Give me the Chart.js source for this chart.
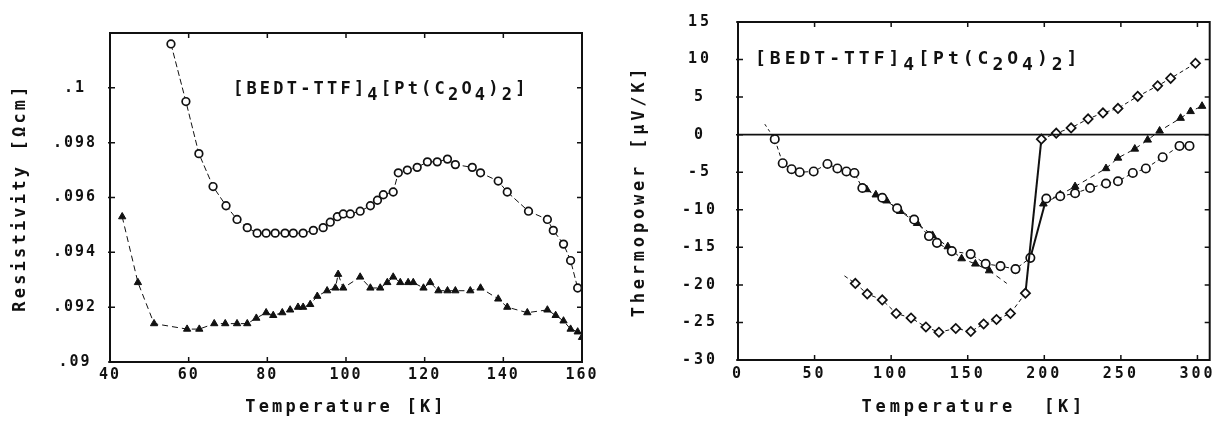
<!DOCTYPE html>
<html lang="en">
<head>
<meta charset="UTF-8">
<title>[BEDT-TTF]4[Pt(C2O4)2] resistivity and thermopower</title>
<script src="https://cdn.jsdelivr.net/npm/chart.js"></script>
<style>
  body { margin: 0; background: #fff; }
  #wrap { position: relative; width: 1216px; height: 424px; }
  #leftChart { position: absolute; left: 0; top: 0; width: 600px; height: 424px; }
  #rightChart { position: absolute; left: 600px; top: 0; width: 616px; height: 424px; }
</style>
</head>
<body>
<div id="wrap">
  <canvas id="leftChart" width="600" height="424"></canvas>
  <canvas id="rightChart" width="616" height="424"></canvas>
</div>
<script>
// ---- left panel: resistivity ----
const resCircleT = [55.5, 59.3, 62.6, 66.2, 69.5, 72.3, 74.9, 77.4, 79.7, 82.0, 84.5, 86.6, 89.1, 91.7, 94.2, 96.0, 97.8, 99.3, 101.1, 103.6, 106.2, 108.0, 109.5, 112.0, 113.3, 115.6, 118.1, 120.7, 123.2, 125.8, 127.8, 132.1, 134.2, 138.7, 141.0, 146.4, 151.2, 152.7, 155.3, 157.1, 158.9];
const resCircleV = [.1016, .0995, .0976, .0964, .0957, .0952, .0949, .0947, .0947, .0947, .0947, .0947, .0947, .0948, .0949, .0951, .0953, .0954, .0954, .0955, .0957, .0959, .0961, .0962, .0969, .0970, .0971, .0973, .0973, .0974, .0972, .0971, .0969, .0966, .0962, .0955, .0952, .0948, .0943, .0937, .0927];

const resTriT = [43.1, 47.1, 51.2, 59.6, 62.7, 66.5, 69.3, 72.3, 74.9, 77.2, 79.7, 81.5, 83.8, 85.8, 87.8, 89.1, 90.9, 92.7, 95.2, 97.3, 98.0, 99.3, 103.6, 106.2, 108.7, 110.5, 112.0, 113.8, 115.8, 117.1, 119.7, 121.4, 123.5, 125.8, 127.8, 131.6, 134.2, 138.7, 141.0, 146.1, 151.2, 153.3, 155.3, 157.1, 158.9, 160.0];
const resTriV = [.0953, .0929, .0914, .0912, .0912, .0914, .0914, .0914, .0914, .0916, .0918, .0917, .0918, .0919, .0920, .0920, .0921, .0924, .0926, .0927, .0932, .0927, .0931, .0927, .0927, .0929, .0931, .0929, .0929, .0929, .0927, .0929, .0926, .0926, .0926, .0926, .0927, .0923, .0920, .0918, .0919, .0917, .0915, .0912, .0911, .0909];

const resXTicks = [40, 60, 80, 100, 120, 140, 160];
const resYTicks = [0.090, 0.092, 0.094, 0.096, 0.098, 0.100];
const resYLabels = ['.09', '.092', '.094', '.096', '.098', '.1'];

// ---- right panel: thermopower ----
const tpCircleT = [24.0, 29.2, 35.0, 40.3, 49.4, 58.4, 64.9, 70.8, 76.0, 81.2, 94.2, 103.9, 115.0, 124.7, 129.9, 139.6, 151.9, 161.7, 171.4, 181.2, 190.9, 201.3, 210.4, 220.1, 229.9, 240.3, 248.1, 257.8, 266.3, 277.3, 288.3, 294.8];
const tpCircleS = [-0.6, -3.8, -4.6, -5.0, -4.9, -3.9, -4.5, -4.9, -5.1, -7.1, -8.4, -9.8, -11.3, -13.5, -14.4, -15.5, -15.9, -17.2, -17.5, -17.9, -16.4, -8.5, -8.2, -7.8, -7.1, -6.5, -6.2, -5.1, -4.5, -3.0, -1.5, -1.5];

const tpTriLowT = [84.0, 90.0, 97.0, 106.0, 117.0, 127.0, 137.0, 146.0, 155.0, 164.0];
const tpTriLowS = [-7.3, -8.0, -8.8, -10.2, -11.8, -13.4, -14.9, -16.5, -17.2, -18.1];
const tpTriHighT = [199.4, 210.4, 220.1, 240.3, 248.1, 259.1, 267.5, 275.3, 289.0, 295.5, 303.0];
const tpTriHighS = [-9.2, -8.0, -6.9, -4.5, -3.1, -1.9, -0.7, 0.5, 2.2, 3.1, 3.8];

const tpDiamondT = [76.6, 84.4, 94.2, 103.3, 113.0, 122.7, 131.2, 142.2, 152.0, 160.4, 168.8, 177.9, 187.7, 198.1, 207.8, 217.5, 228.6, 238.3, 248.1, 261.0, 274.0, 282.5, 298.7];
const tpDiamondS = [-19.8, -21.2, -22.0, -23.8, -24.4, -25.6, -26.3, -25.8, -26.2, -25.2, -24.6, -23.8, -21.1, -0.6, 0.2, 0.9, 2.1, 2.9, 3.5, 5.1, 6.5, 7.5, 9.5];

// free ends of the dashed guide lines
const circleTip = [17.5, 1.4];
const diamondTip = [69.5, -18.8];
const triTip = [175.5, -19.8];

const tpXTicks = [0, 50, 100, 150, 200, 250, 300];
const tpYTicks = [-30, -25, -20, -15, -10, -5, 0, 5, 10, 15];

const ink = '#111';
const mono = '"DejaVu Sans Mono", "Liberation Mono", monospace';
const formula = [['[BEDT-TTF]', 0], ['4', 1], ['[Pt(C', 0], ['2', 1], ['O', 0], ['4', 1], [')', 0], ['2', 1], [']', 0]];

function pts(xs, ys) { return xs.map((x, i) => ({ x: x, y: ys[i] })); }

const dashOrJump = {
  borderDash: c => Math.abs(c.p1.parsed.y - c.p0.parsed.y) > 5 ? [] : [4, 3],
  borderWidth: c => Math.abs(c.p1.parsed.y - c.p0.parsed.y) > 5 ? 2 : 1
};

const plotterDecor = {
  id: 'plotterDecor',
  beforeUpdate(chart, args, opts) { chart.ctx.letterSpacing = opts.tickSpacing; },
  beforeDraw(chart, args, opts) { chart.ctx.letterSpacing = opts.tickSpacing; },
  afterDraw(chart, args, opts) {
    const { ctx, chartArea: a, scales: { x, y } } = chart;
    ctx.save();
    ctx.strokeStyle = ink;
    ctx.lineWidth = 2;
    ctx.strokeRect(a.left, a.top, a.right - a.left, a.bottom - a.top);

    // small inward ticks on all four sides
    ctx.lineWidth = 1.5;
    ctx.beginPath();
    x.ticks.forEach(t => {
      const px = x.getPixelForValue(t.value);
      ctx.moveTo(px, a.bottom); ctx.lineTo(px, a.bottom - 5);
      ctx.moveTo(px, a.top); ctx.lineTo(px, a.top + 5);
    });
    y.ticks.forEach(t => {
      const py = y.getPixelForValue(t.value);
      ctx.moveTo(a.left - 2, py); ctx.lineTo(a.left + 5, py);
      ctx.moveTo(a.right, py); ctx.lineTo(a.right - 5, py);
    });
    ctx.stroke();

    if (opts.zeroLine) {
      const py = y.getPixelForValue(0);
      ctx.lineWidth = 1.8;
      ctx.beginPath();
      ctx.moveTo(a.left, py); ctx.lineTo(a.right, py);
      ctx.stroke();
    }

    // axis titles
    ctx.fillStyle = ink;
    ctx.textAlign = 'center';
    ctx.textBaseline = 'middle';
    ctx.font = opts.titleFont;
    ctx.letterSpacing = opts.titleSpacing;
    ctx.fillText(opts.xTitle, (a.left + a.right) / 2, a.bottom + opts.xTitleGap);
    ctx.save();
    ctx.translate(opts.yTitleX, (a.top + a.bottom) / 2);
    ctx.rotate(-Math.PI / 2);
    ctx.fillText(opts.yTitle, 0, 0);
    ctx.restore();

    // compound label with subscripts
    ctx.font = opts.formulaFont;
    ctx.letterSpacing = opts.formulaSpacing;
    ctx.textAlign = 'left';
    let fx = a.left + opts.formulaDx;
    const fy = a.top + opts.formulaDy;
    formula.forEach(([txt, sub]) => {
      ctx.fillText(txt, fx, fy + (sub ? 6 : 0));
      fx += ctx.measureText(txt).width;
    });
    ctx.restore();
  }
};

function fixedWidth(w) { return s => { s.width = w; s.paddingTop = 0; s.paddingBottom = 0; }; }
function fixedHeight(h) { return s => { s.height = h; s.paddingLeft = 0; s.paddingRight = 0; }; }

const tickFont = { family: mono, size: 15, weight: 'bold' };

// ---- left chart ----
new Chart(document.getElementById('leftChart'), {
  type: 'scatter',
  data: {
    datasets: [
      {
        data: pts(resCircleT, resCircleV),
        showLine: true, borderColor: ink, borderWidth: 1, borderDash: [6, 3],
        pointStyle: 'circle', pointRadius: 3.8, pointBorderWidth: 1.7,
        pointBorderColor: ink, pointBackgroundColor: '#fff'
      },
      {
        data: pts(resTriT, resTriV),
        showLine: true, borderColor: ink, borderWidth: 1, borderDash: [6, 4],
        pointStyle: 'triangle', pointRadius: 4.2, pointBorderWidth: 1,
        pointBorderColor: ink, pointBackgroundColor: ink
      }
    ]
  },
  options: {
    responsive: false,
    animation: false,
    events: [],
    layout: { padding: { top: 33, right: 18, left: 0, bottom: 0 } },
    plugins: {
      legend: { display: false },
      tooltip: { enabled: false },
      plotterDecor: {
        tickSpacing: '2px',
        titleFont: 'bold 17px ' + mono, titleSpacing: '3.2px',
        xTitle: 'Temperature [K]', xTitleGap: 46,
        yTitle: 'Resistivity [Ωcm]', yTitleX: 21,
        formulaFont: 'bold 17px ' + mono, formulaSpacing: '3.2px',
        formulaDx: 123, formulaDy: 57,
        zeroLine: false
      }
    },
    scales: {
      x: {
        type: 'linear', min: 40, max: 160,
        afterBuildTicks: s => { s.ticks = resXTicks.map(v => ({ value: v })); },
        afterFit: fixedHeight(62),
        grid: { display: false, drawTicks: false },
        border: { display: false },
        ticks: { color: ink, font: tickFont, padding: 4, maxRotation: 0 }
      },
      y: {
        type: 'linear', min: 0.09, max: 0.102,
        afterBuildTicks: s => { s.ticks = resYTicks.map(v => ({ value: v })); },
        afterFit: fixedWidth(110),
        grid: { display: false, drawTicks: false },
        border: { display: false },
        ticks: {
          color: ink, font: tickFont, padding: 13, crossAlign: 'center',
          callback: (v, i) => resYLabels[i]
        }
      }
    }
  },
  plugins: [plotterDecor]
});

// ---- right chart ----
new Chart(document.getElementById('rightChart'), {
  type: 'scatter',
  data: {
    datasets: [
      {
        data: [{ x: circleTip[0], y: circleTip[1] }, { x: tpCircleT[0], y: tpCircleS[0] }],
        showLine: true, borderColor: ink, borderWidth: 1, borderDash: [3, 3], pointRadius: 0
      },
      {
        data: [{ x: diamondTip[0], y: diamondTip[1] }, { x: tpDiamondT[0], y: tpDiamondS[0] }],
        showLine: true, borderColor: ink, borderWidth: 1, borderDash: [4, 3], pointRadius: 0
      },
      {
        data: [{ x: tpTriLowT[tpTriLowT.length - 1], y: tpTriLowS[tpTriLowS.length - 1] }, { x: triTip[0], y: triTip[1] }],
        showLine: true, borderColor: ink, borderWidth: 1, borderDash: [5, 4], pointRadius: 0
      },
      {
        data: pts(tpDiamondT, tpDiamondS),
        showLine: true, borderColor: ink, segment: dashOrJump,
        pointStyle: 'rectRot', pointRadius: 4.6, pointBorderWidth: 1.7,
        pointBorderColor: ink, pointBackgroundColor: '#fff'
      },
      {
        data: pts(tpCircleT, tpCircleS),
        showLine: true, borderColor: ink, segment: dashOrJump,
        pointStyle: 'circle', pointRadius: 4.2, pointBorderWidth: 1.7,
        pointBorderColor: ink, pointBackgroundColor: '#fff'
      },
      {
        data: pts(tpTriLowT, tpTriLowS),
        showLine: true, borderColor: ink, borderWidth: 1, borderDash: [5, 4],
        pointStyle: 'triangle', pointRadius: 4.4, pointBorderWidth: 1,
        pointBorderColor: ink, pointBackgroundColor: ink
      },
      {
        data: pts(tpTriHighT, tpTriHighS),
        showLine: true, borderColor: ink, borderWidth: 1, borderDash: [5, 4],
        pointStyle: 'triangle', pointRadius: 4.4, pointBorderWidth: 1,
        pointBorderColor: ink, pointBackgroundColor: ink
      }
    ]
  },
  options: {
    responsive: false,
    animation: false,
    events: [],
    layout: { padding: { top: 22, right: 3, left: 0, bottom: 0 } },
    plugins: {
      legend: { display: false },
      tooltip: { enabled: false },
      plotterDecor: {
        tickSpacing: '3px',
        titleFont: 'bold 17px ' + mono, titleSpacing: '3.8px',
        xTitle: 'Temperature  [K]', xTitleGap: 48,
        yTitle: 'Thermopower [µV/K]', yTitleX: 40,
        formulaFont: 'bold 18px ' + mono, formulaSpacing: '4px',
        formulaDx: 17, formulaDy: 37,
        zeroLine: true
      }
    },
    scales: {
      x: {
        type: 'linear', min: 0, max: 308,
        afterBuildTicks: s => { s.ticks = tpXTicks.map(v => ({ value: v })); },
        afterFit: fixedHeight(64),
        grid: { display: false, drawTicks: false },
        border: { display: false },
        ticks: { color: ink, font: tickFont, padding: 5, maxRotation: 0 }
      },
      y: {
        type: 'linear', min: -30, max: 15,
        afterBuildTicks: s => { s.ticks = tpYTicks.map(v => ({ value: v })); },
        afterFit: fixedWidth(138),
        grid: { display: false, drawTicks: false },
        border: { display: false },
        ticks: { color: ink, font: tickFont, padding: 20, crossAlign: 'center' }
      }
    }
  },
  plugins: [plotterDecor]
});
</script>
</body>
</html>
